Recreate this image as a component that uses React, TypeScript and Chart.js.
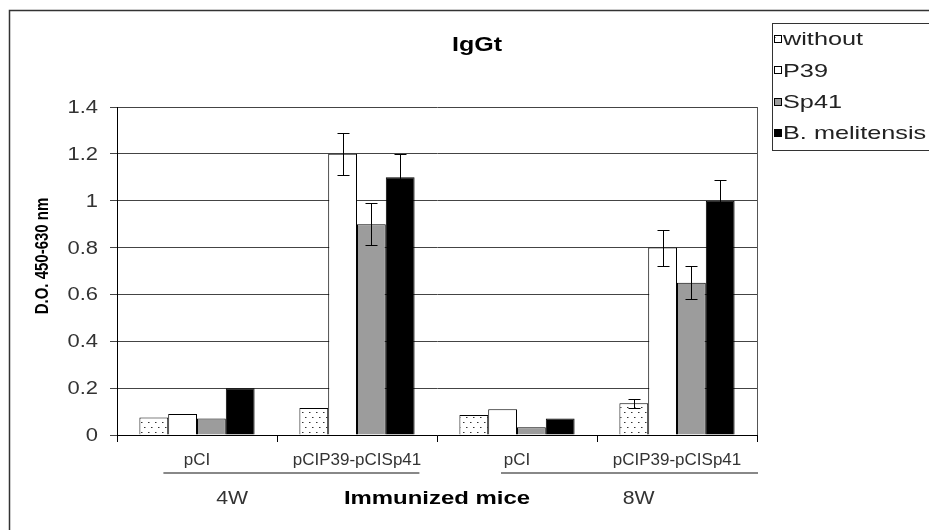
import React, { useEffect, useRef } from 'react';
import { Chart, registerables } from 'chart.js';

Chart.register(...registerables);

// ---- data ----
const categories = ['pCI', 'pCIP39-pCISp41', 'pCI', 'pCIP39-pCISp41'];
const groupLabels = ['4W', '8W'];
const seriesNames = ['without', 'P39', 'Sp41', 'B. melitensis'];
const withoutValues = [0.075, 0.115, 0.085, 0.135];
const p39Values = [0.09, 1.2, 0.11, 0.8];
const sp41Values = [0.07, 0.9, 0.033, 0.65];
const melitensisValues = [0.2, 1.1, 0.07, 1.0];
const withoutErrors = [0, 0, 0, 0.02];
const p39Errors = [0, 0.09, 0, 0.077];
const sp41Errors = [0, 0.09, 0, 0.07];
const melitensisErrors = [0, 0.1, 0, 0.09];
const yTicks = [0, 0.2, 0.4, 0.6, 0.8, 1, 1.2, 1.4];
const yTickLabels = ['0', '0.2', '0.4', '0.6', '0.8', '1', '1.2', '1.4'];
const chartTitle = 'IgGt';
const yTitle = 'D.O. 450-630 nm';
const xTitle = 'Immunized mice';

const FONT = '"Liberation Sans", Arial, sans-serif';

// draw text stretched horizontally by sx (the reference's text is wide)
function wideText(
  ctx: CanvasRenderingContext2D,
  text: string,
  x: number,
  y: number,
  font: string,
  sx: number,
  align: 'left' | 'center' | 'right',
  color: string,
  baseline: CanvasTextBaseline = 'alphabetic'
) {
  ctx.save();
  ctx.translate(x, y);
  ctx.scale(sx, 1);
  ctx.font = font;
  ctx.fillStyle = color;
  ctx.textBaseline = baseline;
  ctx.textAlign = align;
  ctx.fillText(text, 0, 0);
  ctx.restore();
}

export default function App() {
  const canvasRef = useRef<HTMLCanvasElement | null>(null);

  useEffect(() => {
    const canvas = canvasRef.current;
    if (!canvas) return;
    const ctx = canvas.getContext('2d')!;

    const pc = document.createElement('canvas');
    pc.width = 7;
    pc.height = 10;
    const pctx = pc.getContext('2d')!;
    pctx.fillStyle = '#ffffff';
    pctx.fillRect(0, 0, 7, 10);
    pctx.fillStyle = '#333333';
    pctx.fillRect(1, 2, 1, 1);
    pctx.fillRect(4, 7, 1, 1);
    pctx.fillStyle = '#999999';
    pctx.fillRect(2, 2, 1, 1);
    pctx.fillRect(5, 7, 1, 1);
    const dotPattern = ctx.createPattern(pc, 'repeat')!;

    const fills: (string | CanvasPattern)[] = [dotPattern, '#ffffff', '#9c9c9c', '#000000'];
    const seriesValues = [withoutValues, p39Values, sp41Values, melitensisValues];
    const seriesErrors = [withoutErrors, p39Errors, sp41Errors, melitensisErrors];

    const errorBars = {
      id: 'errorBars',
      afterDatasetsDraw(chart: any) {
        const c = chart.ctx as CanvasRenderingContext2D;
        const ys = chart.scales.y;
        c.save();
        c.strokeStyle = '#000';
        c.lineWidth = 1;
        seriesValues.forEach((vals, i) => {
          const meta = chart.getDatasetMeta(i);
          meta.data.forEach((el: any, j: number) => {
            const e = seriesErrors[i][j];
            if (!e) return;
            const x = Math.round(el.x) + 0.5;
            const yt = Math.round(ys.getPixelForValue(vals[j] + e)) + 0.5;
            const yb = Math.round(ys.getPixelForValue(vals[j] - e)) + 0.5;
            c.beginPath();
            c.moveTo(x, yt);
            c.lineTo(x, yb);
            c.moveTo(x - 6, yt);
            c.lineTo(x + 6, yt);
            c.moveTo(x - 6, yb);
            c.lineTo(x + 6, yb);
            c.stroke();
          });
        });
        c.restore();
      },
    };

    const decor = {
      id: 'decor',
      afterDraw(chart: any) {
        const c = chart.ctx as CanvasRenderingContext2D;
        const area = chart.chartArea;
        const xs = chart.scales.x;
        const ys = chart.scales.y;
        c.save();
        // outer frame
        c.strokeStyle = '#333';
        c.lineWidth = 1.5;
        c.beginPath();
        c.moveTo(9.5, 600);
        c.lineTo(9.5, 10.5);
        c.lineTo(1000, 10.5);
        c.stroke();
        // plot right border
        c.strokeStyle = '#555';
        c.lineWidth = 1;
        c.beginPath();
        c.moveTo(Math.round(area.right) + 0.5, area.top);
        c.lineTo(Math.round(area.right) + 0.5, area.bottom);
        c.stroke();
        c.restore();

        // title
        wideText(c, chartTitle, 477, 51, `bold 20px ${FONT}`, 1.25, 'center', '#000');

        // y tick labels
        yTicks.forEach((v, i) => {
          const y = ys.getPixelForValue(v);
          wideText(c, yTickLabels[i], 98, y + 1, `18px ${FONT}`, 1.22, 'right', '#333', 'middle');
        });

        // y title (rotated; stretched along the canvas x direction)
        c.save();
        c.translate(43, 256);
        c.rotate(-Math.PI / 2);
        c.scale(1, 1.25);
        c.font = `bold 15px ${FONT}`;
        c.fillStyle = '#000';
        c.textAlign = 'center';
        c.textBaseline = 'middle';
        c.fillText(yTitle, 0, 0);
        c.restore();

        // group lines and labels
        const catW = (area.right - area.left) / categories.length;
        const catLeft = (i: number) => xs.getPixelForValue(i) - catW / 2;
        c.save();
        c.strokeStyle = '#888';
        c.lineWidth = 2;
        c.beginPath();
        c.moveTo(catLeft(0) + 0.29 * catW, 473);
        c.lineTo(catLeft(2) - 0.11 * catW, 473);
        c.moveTo(catLeft(2) + 0.4 * catW, 473);
        c.lineTo(catLeft(2) + 2 * catW + 1, 473);
        c.stroke();
        c.restore();
        wideText(c, groupLabels[0], catLeft(0) + 0.72 * catW, 504, `18px ${FONT}`, 1.18, 'center', '#333');
        wideText(c, groupLabels[1], catLeft(2) + 1.26 * catW, 504, `18px ${FONT}`, 1.18, 'center', '#333');

        // x title
        wideText(c, xTitle, (area.left + area.right) / 2, 504, `bold 19px ${FONT}`, 1.26, 'center', '#000');

        // legend
        c.save();
        c.strokeStyle = '#333';
        c.lineWidth = 1;
        c.fillStyle = '#fff';
        c.fillRect(772.5, 23.5, 200, 127);
        c.strokeRect(772.5, 23.5, 200, 127);
        seriesNames.forEach((name, i) => {
          const cy = 39 + i * 31.4;
          const top = Math.round(cy - 4) + 0.5;
          c.fillStyle = fills[i] as any;
          c.fillRect(774.5, top, 7, 7);
          c.strokeStyle = '#000';
          c.strokeRect(774.5, top, 7, 7);
          wideText(c, name, 783, cy + 1, `19px ${FONT}`, 1.33, 'left', '#222', 'middle');
        });
        c.restore();
      },
    };

    const chart = new Chart(canvas, {
      type: 'bar',
      data: {
        labels: categories,
        datasets: seriesNames.map((name, i) => ({
          label: name,
          data: seriesValues[i],
          backgroundColor: fills[i] as any,
          borderColor: '#000',
          borderWidth: 1,
          barPercentage: 1,
          categoryPercentage: 0.72,
        })),
      },
      options: {
        responsive: false,
        animation: false,
        layout: { padding: { left: 0, top: 107, right: 172, bottom: 55 } },
        plugins: {
          legend: { display: false },
          title: { display: false },
          tooltip: { enabled: false },
        },
        scales: {
          x: {
            afterFit: (s: any) => {
              s.height = 40;
            },
            grid: {
              drawOnChartArea: false,
              drawTicks: true,
              tickLength: 7,
              color: '#000',
              offset: true,
            },
            border: { color: '#000', width: 1 },
            ticks: {
              font: { family: FONT, size: 17 },
              color: '#333',
              padding: 8,
              maxRotation: 0,
              autoSkip: false,
            },
          },
          y: {
            min: 0,
            max: 1.4,
            afterFit: (s: any) => {
              s.width = 117;
            },
            afterBuildTicks: (s: any) => {
              s.ticks = yTicks.map((v) => ({ value: v }));
            },
            grid: { color: '#444', lineWidth: 1, tickLength: 7, drawTicks: true },
            border: { color: '#000', width: 1 },
            ticks: { display: false },
          },
        },
      },
      plugins: [errorBars, decor],
    });

    return () => chart.destroy();
  }, []);

  return (
    <div style={{ position: 'fixed', left: 0, top: 0, width: 929, height: 530, background: '#fff' }}>
      <canvas ref={canvasRef} width={929} height={530} style={{ width: 929, height: 530 }} />
    </div>
  );
}
